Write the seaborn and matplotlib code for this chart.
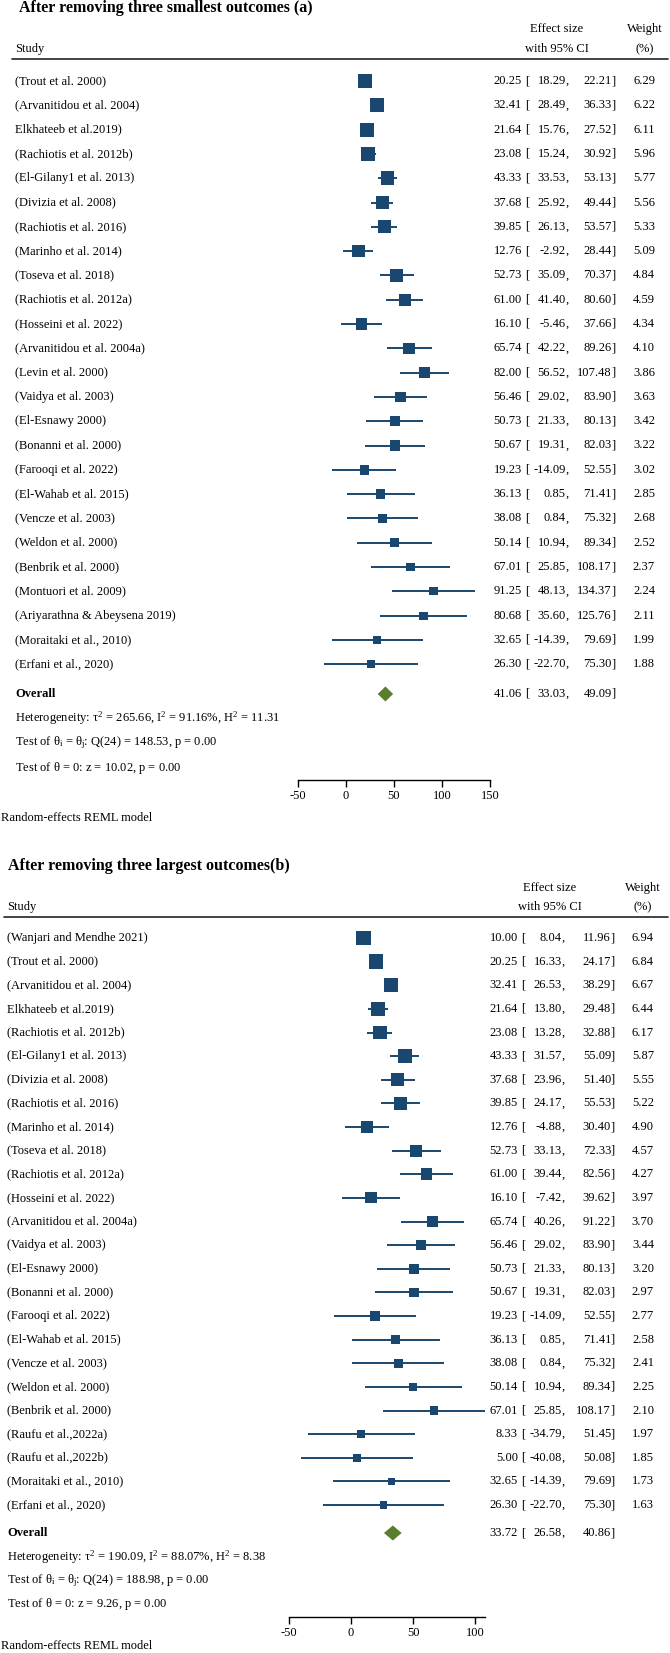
import numpy as np
import pandas as pd
import matplotlib
matplotlib.use("Agg")
import matplotlib.pyplot as plt
from matplotlib import transforms
import seaborn as sns

# ---------------- data ----------------
studies_a = ["(Trout et al. 2000)", "(Arvanitidou et al. 2004)", "Elkhateeb et al.2019)",
             "(Rachiotis et al. 2012b)", "(El-Gilany1 et al. 2013)", "(Divizia et al. 2008)",
             "(Rachiotis et al. 2016)", "(Marinho et al. 2014)", "(Toseva et al. 2018)",
             "(Rachiotis et al. 2012a)", "(Hosseini et al. 2022)", "(Arvanitidou et al. 2004a)",
             "(Levin et al. 2000)", "(Vaidya et al. 2003)", "(El-Esnawy 2000)",
             "(Bonanni et al. 2000)", "(Farooqi et al. 2022)", "(El-Wahab et al. 2015)",
             "(Vencze et al. 2003)", "(Weldon et al. 2000)", "(Benbrik et al. 2000)",
             "(Montuori et al. 2009)", "(Ariyarathna & Abeysena 2019)", "(Moraitaki et al., 2010)",
             "(Erfani et al., 2020)"]
est_a = [20.25, 32.41, 21.64, 23.08, 43.33, 37.68, 39.85, 12.76, 52.73, 61.00, 16.10, 65.74,
         82.00, 56.46, 50.73, 50.67, 19.23, 36.13, 38.08, 50.14, 67.01, 91.25, 80.68, 32.65, 26.30]
lo_a = [18.29, 28.49, 15.76, 15.24, 33.53, 25.92, 26.13, -2.92, 35.09, 41.40, -5.46, 42.22,
        56.52, 29.02, 21.33, 19.31, -14.09, 0.85, 0.84, 10.94, 25.85, 48.13, 35.60, -14.39, -22.70]
hi_a = [22.21, 36.33, 27.52, 30.92, 53.13, 49.44, 53.57, 28.44, 70.37, 80.60, 37.66, 89.26,
        107.48, 83.90, 80.13, 82.03, 52.55, 71.41, 75.32, 89.34, 108.17, 134.37, 125.76, 79.69, 75.30]
w_a = [6.29, 6.22, 6.11, 5.96, 5.77, 5.56, 5.33, 5.09, 4.84, 4.59, 4.34, 4.10, 3.86, 3.63, 3.42,
       3.22, 3.02, 2.85, 2.68, 2.52, 2.37, 2.24, 2.11, 1.99, 1.88]
overall_a = [41.06, 33.03, 49.09]
stats_a = ["265.66", "91.16", "11.31", "148.53", "10.02"]
ticks_a = [-50, 0, 50, 100, 150]

studies_b = ["(Wanjari and Mendhe 2021)", "(Trout et al. 2000)", "(Arvanitidou et al. 2004)",
             "Elkhateeb et al.2019)", "(Rachiotis et al. 2012b)", "(El-Gilany1 et al. 2013)",
             "(Divizia et al. 2008)", "(Rachiotis et al. 2016)", "(Marinho et al. 2014)",
             "(Toseva et al. 2018)", "(Rachiotis et al. 2012a)", "(Hosseini et al. 2022)",
             "(Arvanitidou et al. 2004a)", "(Vaidya et al. 2003)", "(El-Esnawy 2000)",
             "(Bonanni et al. 2000)", "(Farooqi et al. 2022)", "(El-Wahab et al. 2015)",
             "(Vencze et al. 2003)", "(Weldon et al. 2000)", "(Benbrik et al. 2000)",
             "(Raufu et al.,2022a)", "(Raufu et al.,2022b)", "(Moraitaki et al., 2010)",
             "(Erfani et al., 2020)"]
est_b = [10.00, 20.25, 32.41, 21.64, 23.08, 43.33, 37.68, 39.85, 12.76, 52.73, 61.00, 16.10,
         65.74, 56.46, 50.73, 50.67, 19.23, 36.13, 38.08, 50.14, 67.01, 8.33, 5.00, 32.65, 26.30]
lo_b = [8.04, 16.33, 26.53, 13.80, 13.28, 31.57, 23.96, 24.17, -4.88, 33.13, 39.44, -7.42,
        40.26, 29.02, 21.33, 19.31, -14.09, 0.85, 0.84, 10.94, 25.85, -34.79, -40.08, -14.39, -22.70]
hi_b = [11.96, 24.17, 38.29, 29.48, 32.88, 55.09, 51.40, 55.53, 30.40, 72.33, 82.56, 39.62,
        91.22, 83.90, 80.13, 82.03, 52.55, 71.41, 75.32, 89.34, 108.17, 51.45, 50.08, 79.69, 75.30]
w_b = [6.94, 6.84, 6.67, 6.44, 6.17, 5.87, 5.55, 5.22, 4.90, 4.57, 4.27, 3.97, 3.70, 3.44, 3.20,
       2.97, 2.77, 2.58, 2.41, 2.25, 2.10, 1.97, 1.85, 1.73, 1.63]
overall_b = [33.72, 26.58, 40.86]
stats_b = ["190.09", "88.07", "8.38", "188.98", "9.26"]
ticks_b = [-50, 0, 50, 100]

# ---------------- style ----------------
sns.set_theme(style="white")
plt.rcParams["font.family"] = ["Liberation Serif", "DejaVu Serif"]
plt.rcParams["mathtext.fontset"] = "custom"
plt.rcParams["mathtext.rm"] = "Liberation Serif"
plt.rcParams["mathtext.it"] = "Liberation Serif"
plt.rcParams["mathtext.bf"] = "Liberation Serif:bold"

NAVY = "#1a476f"
GREEN = "#5a7d2e"
FS = 9
TFS = 11.5
W, H = 670, 1653
fig = plt.figure(figsize=(W / 100, H / 100), dpi=100)


def panel(top, bottom, title, studies, est, lo, hi, w, overall, stats, ticks, L):
    ax = fig.add_axes([0, 1 - bottom / H, 1, (bottom - top) / H])
    x0, sc = L["x0"], L["sc"]
    ax.set_xlim((0 - x0) / sc, (W - x0) / sc)
    ax.set_ylim(bottom, top)
    tr = transforms.blended_transform_factory(ax.transAxes, ax.transData)

    def T(px, y, s, **kw):
        kw.setdefault("fontsize", FS)
        kw.setdefault("va", "center")
        ax.text(px / W, y, s, transform=tr, color="black", **kw)

    df = pd.DataFrame({"study": studies, "est": est, "lo": lo, "hi": hi, "w": w})
    df["y"] = L["row0"] + np.arange(len(df)) * L["sp"]

    # CI lines and weighted squares
    ax.hlines(df["y"], df["lo"], df["hi"], color=NAVY, lw=1.4, zorder=2)
    k = 16.3
    sns.scatterplot(data=df, x="est", y="y", size="w", sizes=(k * df.w.min(), k * df.w.max()),
                    size_norm=(df.w.min(), df.w.max()), marker="s", color=NAVY,
                    linewidth=0, legend=False, ax=ax, zorder=3)

    # overall diamond
    oe, ol, oh = overall
    yo = L["ov"]
    ax.fill([ol, oe, oh, oe], [yo, yo - 7.5, yo, yo + 7.5], color=GREEN, lw=0, zorder=3)

    # title / headers
    T(L["tx"], L["title"], title, fontsize=TFS, fontweight="bold")
    T(L["lx"], L["h2"], "Study")
    T(L["ec"], L["h1"], "Effect size", ha="center")
    T(L["ec"], L["h2"], "with 95% CI", ha="center")
    T(L["wc"], L["h1"], "Weight", ha="center")
    T(L["wc"], L["h2"], "(%)", ha="center")
    ax.axhline(L["line"], xmin=L["line_x"] / W, xmax=668 / W, color="#222222", lw=1.2)

    def row_text(y, s, e, l, h, wt=None, bold=False):
        T(L["lx"], y, s, fontweight="bold" if bold else "normal")
        T(L["c_est"], y, f"{e:.2f}", ha="right")
        T(L["c_est"] + 3, y, "[", ha="left")
        T(L["c_lo"], y, f"{l:.2f}", ha="right")
        T(L["c_lo"], y, ",", ha="left")
        T(L["c_hi"], y, f"{h:.2f}", ha="right")
        T(L["c_hi"], y, "]", ha="left")
        if wt is not None:
            T(L["c_w"], y, f"{wt:.2f}", ha="right")

    for _, r in df.iterrows():
        row_text(r.y, r.study, r.est, r.lo, r.hi, r.w)
    row_text(yo, "Overall", oe, ol, oh, bold=True)

    t2, i2, h2, q, z = stats
    T(L["lx"], L["s1"], rf"Heterogeneity: $\tau^2$ = {t2}, I$^2$ = {i2}%, H$^2$ = {h2}")
    T(L["lx"], L["s2"], rf"Test of $\theta_i$ = $\theta_j$: Q(24) = {q}, p = 0.00")
    T(L["lx"], L["s3"], rf"Test of $\theta$ = 0: z = {z}, p = 0.00")
    T(1, L["rem"], "Random-effects REML model")

    # x axis
    for s in ["top", "left", "right"]:
        ax.spines[s].set_visible(False)
    ax.spines["bottom"].set_position(("data", L["axis"]))
    ax.spines["bottom"].set_bounds(ticks[0], max(ticks[-1], max(hi)) if L["ext"] else ticks[-1])
    ax.spines["bottom"].set_color("black")
    ax.spines["bottom"].set_linewidth(1.0)
    ax.set_xticks(ticks)
    ax.set_xticklabels([str(t) for t in ticks])
    ax.tick_params(axis="x", direction="out", length=5, width=1, pad=2, labelsize=FS,
                   colors="black", bottom=True)
    ax.set_yticks([])
    ax.set_xlabel("")
    ax.set_ylabel("")
    ax.grid(False)
    ax.set_facecolor("none")


LA = dict(x0=346, sc=0.96, row0=81, sp=24.3, ov=694, title=8, h1=29, h2=49, line=59, line_x=12,
          s1=718, s2=743, s3=768, axis=780, rem=818, tx=19, lx=15, ec=557, wc=645,
          c_est=522, c_lo=566, c_hi=612, c_w=655, ext=False)
LB = dict(x0=351, sc=1.24, row0=938, sp=23.625, ov=1533, title=866, h1=888, h2=907, line=917,
          line_x=4, s1=1557, s2=1581, s3=1604, axis=1617, rem=1646, tx=8, lx=7, ec=550, wc=643,
          c_est=518, c_lo=562, c_hi=611, c_w=654, ext=True)

panel(0, 835, "After removing three smallest outcomes (a)", studies_a, est_a, lo_a, hi_a, w_a,
      overall_a, stats_a, ticks_a, LA)
panel(835, H, "After removing three largest outcomes(b)", studies_b, est_b, lo_b, hi_b, w_b,
      overall_b, stats_b, ticks_b, LB)

fig.savefig("out.png", dpi=100, facecolor="white")
